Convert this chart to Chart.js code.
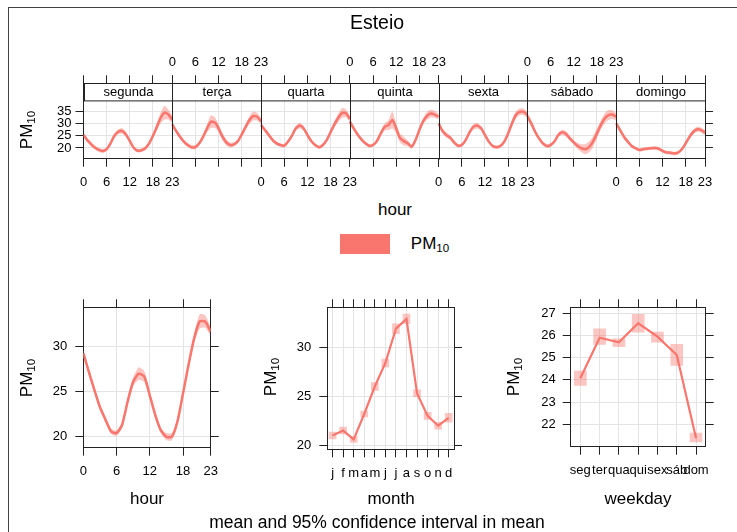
<!DOCTYPE html>
<html>
<head>
<meta charset="utf-8">
<script src="https://cdn.jsdelivr.net/npm/chart.js@4.4.1/dist/chart.umd.min.js"></script>
<style>
  body { margin: 0; background: #fff; font-family: "Liberation Sans", Arial, sans-serif; }
  #wrap { position: relative; width: 737px; height: 532px; overflow: hidden; }
  #frame { position: absolute; left: 8px; top: 7px; width: 740px; height: 530px; border-left: 1px solid #444; border-top: 1px solid #444; }
  canvas { position: absolute; }
  .txt { position: absolute; transform: translate(-50%, -50%); white-space: nowrap; color: #000; }
  .rot { transform: translate(-50%, -50%) rotate(-90deg); }
  sub { font-size: 68%; vertical-align: -0.25em; }
</style>
</head>
<body>
<div id="wrap">
  <div id="frame"></div>
  <canvas id="top" width="737" height="200" style="left:0;top:0"></canvas>
  <canvas id="cHour" width="245" height="200" style="left:0;top:290px"></canvas>
  <canvas id="cMonth" width="245" height="200" style="left:245px;top:290px"></canvas>
  <canvas id="cWeek" width="247" height="200" style="left:490px;top:290px"></canvas>

  <div class="txt" style="left:377px;top:22px;font-size:19.5px">Esteio</div>
  <div class="txt rot" style="left:27px;top:130px;font-size:17px">PM<sub>10</sub></div>
  <div class="txt" style="left:395px;top:210px;font-size:17px">hour</div>
  <div style="position:absolute;left:340px;top:234px;width:50px;height:20px;background:#F8766D"></div>
  <div class="txt" style="left:430px;top:244px;font-size:17px">PM<sub>10</sub></div>

  <div class="txt rot" style="left:27px;top:378px;font-size:17px">PM<sub>10</sub></div>
  <div class="txt rot" style="left:271px;top:377px;font-size:17px">PM<sub>10</sub></div>
  <div class="txt rot" style="left:514px;top:377px;font-size:17px">PM<sub>10</sub></div>
  <div class="txt" style="left:147px;top:499px;font-size:17px">hour</div>
  <div class="txt" style="left:391px;top:499px;font-size:17px">month</div>
  <div class="txt" style="left:638px;top:499px;font-size:17px">weekday</div>
  <div class="txt" style="left:377px;top:522px;font-size:17.5px">mean and 95% confidence interval in mean</div>
</div>
<script>
// weekday x hour panel
const days = ['segunda', 'terça', 'quarta', 'quinta', 'sexta', 'sábado', 'domingo'];
const hourTicks = [0, 6, 12, 18, 23];

const seg = [25.3, 23.2, 21.5, 20.1, 19.2, 18.8, 19.5, 21.9, 25.0, 26.6, 26.9, 25.5, 22.8, 20.1, 18.9, 19.1, 19.9, 21.9, 25.0, 28.6, 32.3, 34.4, 33.6, 31.5];
const ter = [29.6, 26.9, 24.6, 22.6, 21.2, 20.3, 20.4, 21.9, 24.6, 28.0, 30.7, 30.4, 28.0, 24.6, 22.3, 21.2, 21.5, 22.8, 25.5, 28.6, 31.4, 33.0, 32.7, 30.9];
const qua = [29.3, 27.3, 25.3, 23.2, 21.9, 21.2, 20.9, 22.6, 25.0, 28.0, 29.1, 28.0, 25.3, 22.8, 21.2, 20.3, 21.2, 23.2, 26.4, 29.6, 32.3, 34.3, 34.1, 31.8];
const qui = [30.7, 28.0, 25.5, 23.5, 21.9, 20.9, 21.2, 22.8, 25.9, 28.6, 29.3, 31.4, 28.0, 24.0, 22.8, 21.9, 20.5, 23.2, 27.3, 30.9, 33.1, 34.0, 33.6, 32.7];
const sex = [30.0, 26.9, 25.3, 24.2, 22.3, 20.9, 21.2, 23.2, 26.4, 28.6, 29.1, 28.0, 25.3, 22.6, 20.8, 20.3, 20.8, 22.6, 25.9, 30.0, 33.4, 34.7, 34.7, 33.4];
const sab = [33.0, 30.0, 26.6, 23.9, 21.9, 20.8, 21.2, 22.6, 25.3, 26.4, 25.7, 23.9, 22.3, 20.8, 19.9, 19.5, 20.5, 22.6, 25.9, 29.3, 32.0, 33.4, 33.6, 32.7];
const dom = [30.0, 27.3, 24.6, 22.6, 20.8, 19.9, 19.2, 19.5, 19.7, 19.9, 20.0, 19.7, 18.8, 18.2, 18.1, 17.8, 18.1, 19.5, 21.9, 24.6, 26.6, 27.6, 27.3, 26.2];

// half widths of the 95% interval
const segCI = [0.8, 0.8, 0.8, 0.8, 0.8, 0.8, 0.7, 0.7, 0.8, 1.0, 1.1, 1.0, 0.8, 0.7, 0.7, 0.7, 0.7, 0.8, 1.0, 1.5, 2.2, 2.8, 2.0, 1.5];
const terCI = [1.0, 0.9, 0.9, 0.8, 0.8, 0.8, 0.8, 0.8, 1.0, 1.6, 2.6, 2.2, 1.6, 1.5, 1.3, 1.0, 0.8, 0.8, 1.0, 1.2, 1.5, 1.8, 1.5, 1.2];
const quaCI = [1.0, 0.9, 0.8, 0.8, 0.7, 0.7, 0.7, 0.7, 0.8, 1.0, 1.2, 1.0, 0.8, 0.7, 0.7, 0.7, 0.7, 0.8, 1.0, 1.3, 1.7, 2.0, 1.6, 1.3];
const quiCI = [1.0, 0.9, 0.8, 0.8, 0.7, 0.7, 0.7, 0.8, 1.0, 1.5, 2.0, 3.5, 2.0, 1.8, 1.8, 1.2, 0.8, 0.8, 1.0, 1.3, 1.6, 1.6, 1.4, 1.2];
const sexCI = [1.0, 1.0, 1.0, 0.9, 0.8, 0.7, 0.7, 0.7, 0.9, 1.2, 1.2, 1.0, 0.8, 0.7, 0.7, 0.7, 0.7, 0.8, 1.0, 1.3, 1.5, 1.4, 1.4, 1.2];
const sabCI = [1.2, 1.2, 1.0, 0.9, 0.8, 0.8, 0.7, 0.7, 0.9, 1.0, 1.1, 1.0, 1.0, 1.2, 1.6, 2.0, 2.2, 2.2, 2.0, 1.8, 2.0, 2.0, 1.8, 1.5];
const domCI = [1.0, 0.9, 0.8, 0.7, 0.7, 0.6, 0.6, 0.6, 0.6, 0.7, 0.7, 0.7, 0.7, 0.7, 0.7, 0.7, 0.7, 0.7, 0.8, 0.9, 1.0, 1.0, 1.0, 1.0];

// hour panel
const hourMean = [29.3, 27.2, 25.2, 23.3, 21.9, 20.6, 20.4, 21.3, 23.9, 26.1, 27.0, 26.7, 24.6, 22.4, 20.7, 20.0, 20.0, 21.7, 24.8, 28.0, 30.9, 32.8, 32.8, 31.7];
const hourCI = [0.3, 0.3, 0.3, 0.3, 0.3, 0.3, 0.3, 0.3, 0.4, 0.5, 0.7, 0.6, 0.4, 0.3, 0.3, 0.4, 0.4, 0.3, 0.3, 0.4, 0.5, 0.8, 0.7, 0.5];

// month panel
const monthLabels = ['j', 'f', 'm', 'a', 'm', 'j', 'j', 'a', 's', 'o', 'n', 'd'];
const monthMean = [21.0, 21.5, 20.6, 23.2, 26.0, 28.4, 31.9, 32.9, 25.3, 23.0, 22.0, 22.8];
const monthCI = [0.35, 0.35, 0.3, 0.3, 0.4, 0.4, 0.5, 0.5, 0.35, 0.35, 0.35, 0.45];

// weekday panel
const wdLabels = ['seg', 'ter', 'qua', 'qui', 'sex', 'sáb', 'dom'];
const wdMean = [24.07, 25.9, 25.69, 26.55, 25.95, 25.12, 21.37];
const wdLow = [23.75, 25.6, 25.5, 26.15, 25.7, 24.65, 21.2];
const wdHigh = [24.4, 26.3, 25.85, 26.95, 26.15, 25.6, 21.6];

const LINE = '#F8766D';
const BAND = 'rgba(248,118,109,0.42)';
const GRID = '#e4e4e4';
const AXIS = '#222';

Chart.defaults.font.family = '"Liberation Sans", Arial, sans-serif';
Chart.defaults.font.size = 13;
Chart.defaults.color = '#000';
Chart.defaults.animation = false;

const fix = (prop, val) => s => { s[prop] = val; };
const setTicks = vals => s => { s.ticks = vals.map(v => ({ value: v })); };
const noPlugins = { legend: { display: false }, tooltip: { enabled: false } };

function yAxes(min, max, vals, leftW, rightW, pad) {
    return {
        y: {
            min: min, max: max, afterBuildTicks: setTicks(vals), afterFit: fix('width', leftW),
            ticks: { padding: pad, autoSkip: false },
            grid: { color: GRID, tickColor: AXIS, tickLength: 8 },
            border: { color: AXIS }
        },
        y2: {
            position: 'right', min: min, max: max, afterBuildTicks: setTicks(vals), afterFit: fix('width', rightW),
            ticks: { callback: () => '' },
            grid: { drawOnChartArea: false, tickColor: AXIS, tickLength: 8 },
            border: { color: AXIS }
        }
    };
}

// ---- top panel: 7 days side by side ----
const dayMeans = [seg, ter, qua, qui, sex, sab, dom];
const dayCI = [segCI, terCI, quaCI, quiCI, sexCI, sabCI, domCI];
const topTickVals = [], botLabels = [], topLabels = [];
days.forEach((d, i) => {
    hourTicks.forEach(t => {
        topTickVals.push(i * 23 + t);
        botLabels.push(i % 2 === 0 ? String(t) : '');
        topLabels.push(i % 2 === 1 ? String(t) : '');
    });
});

const topSets = [];
dayMeans.forEach((m, d) => {
    const ci = dayCI[d];
    topSets.push({ data: m.map((v, h) => ({ x: d * 23 + h, y: v + ci[h] })), fill: '+1', backgroundColor: BAND, borderWidth: 0, pointRadius: 0, order: 1, tension: 0.2 });
    topSets.push({ data: m.map((v, h) => ({ x: d * 23 + h, y: v - ci[h] })), fill: false, borderWidth: 0, pointRadius: 0, order: 1, tension: 0.2 });
    topSets.push({ data: m.map((v, h) => ({ x: d * 23 + h, y: v })), fill: false, borderColor: LINE, borderWidth: 2.5, pointRadius: 0, order: 0, tension: 0.2 });
});

const STRIP_H = 17.4;
const stripPlugin = {
    id: 'strip',
    afterDraw(chart) {
        const ctx = chart.ctx, xs = chart.scales.x, area = chart.chartArea;
        const y0 = Math.round(area.top) + 0.5;
        const yb = Math.round(area.bottom) + 0.5;
        ctx.save();
        ctx.font = '13px "Liberation Sans", Arial, sans-serif';
        ctx.textAlign = 'center';
        ctx.textBaseline = 'middle';
        ctx.lineWidth = 1;
        ctx.strokeStyle = AXIS;
        days.forEach((name, d) => {
            const x0 = Math.round(xs.getPixelForValue(d * 23)) + 0.5;
            const x1 = Math.round(xs.getPixelForValue(d * 23 + 23)) + 0.5;
            ctx.fillStyle = '#fff';
            ctx.fillRect(x0, y0, x1 - x0, STRIP_H);
            ctx.strokeRect(x0, y0, x1 - x0, STRIP_H);
            ctx.fillStyle = '#000';
            ctx.fillText(name, (x0 + x1) / 2, y0 + STRIP_H / 2 + 0.5);
            // panel border on top of the data
            if (d < days.length - 1) {
                ctx.beginPath();
                ctx.moveTo(x1, y0);
                ctx.lineTo(x1, yb);
                ctx.stroke();
            }
        });
        ctx.restore();
    }
};

new Chart(document.getElementById('top'), {
    type: 'line',
    data: { datasets: topSets },
    plugins: [stripPlugin],
    options: {
        responsive: false, devicePixelRatio: 1,
        layout: { padding: 0 },
        plugins: noPlugins,
        scales: Object.assign({
            x: {
                type: 'linear', min: 0, max: 161, afterBuildTicks: setTicks(topTickVals), afterFit: fix('height', 41.3),
                ticks: { autoSkip: false, maxRotation: 0, padding: 8, callback: (v, i) => botLabels[i] },
                grid: { color: c => (c.tick && c.tick.value % 23 === 0) ? 'rgba(0,0,0,0)' : GRID, tickColor: AXIS, tickLength: 8 },
                border: { color: AXIS }
            },
            x2: {
                type: 'linear', position: 'top', min: 0, max: 161, afterBuildTicks: setTicks(topTickVals), afterFit: fix('height', 83.3),
                ticks: { autoSkip: false, maxRotation: 0, padding: 5, callback: (v, i) => topLabels[i] },
                grid: { drawOnChartArea: false, tickColor: AXIS, tickLength: 8 },
                border: { color: AXIS }
            }
        }, yAxes(15.65, 46.3, [20, 25, 30, 35], 83.5, 32, 4))
    }
});

// ---- hour ----
new Chart(document.getElementById('cHour'), {
    type: 'line',
    data: {
        datasets: [
            { data: hourMean.map((v, h) => ({ x: h, y: v + hourCI[h] })), fill: '+1', backgroundColor: BAND, borderWidth: 0, pointRadius: 0, order: 1, tension: 0.2 },
            { data: hourMean.map((v, h) => ({ x: h, y: v - hourCI[h] })), fill: false, borderWidth: 0, pointRadius: 0, order: 1, tension: 0.2 },
            { data: hourMean.map((v, h) => ({ x: h, y: v })), fill: false, borderColor: LINE, borderWidth: 2.5, pointRadius: 0, order: 0, tension: 0.2 }
        ]
    },
    options: {
        responsive: false, devicePixelRatio: 1,
        layout: { padding: 0 },
        plugins: noPlugins,
        scales: Object.assign({
            x: {
                type: 'linear', min: 0, max: 23, afterBuildTicks: setTicks(hourTicks), afterFit: fix('height', 42.3),
                ticks: { autoSkip: false, maxRotation: 0, padding: 8 },
                grid: { color: GRID, tickColor: AXIS, tickLength: 8 },
                border: { color: AXIS }
            },
            x2: {
                type: 'linear', position: 'top', min: 0, max: 23, afterBuildTicks: setTicks(hourTicks), afterFit: fix('height', 17.3),
                ticks: { callback: () => '' },
                grid: { drawOnChartArea: false, tickColor: AXIS, tickLength: 8 },
                border: { color: AXIS }
            }
        }, yAxes(18.78, 34.38, [20, 25, 30], 83.3, 34.3, 8))
    }
});

// ---- month ----
function catAxes(labels, bottomH) {
    return {
        x: {
            type: 'category', labels: labels, offset: true, afterFit: fix('height', bottomH),
            ticks: { autoSkip: false, maxRotation: 0, padding: 8 },
            grid: { offset: false, color: GRID, tickColor: AXIS, tickLength: 8 },
            border: { color: AXIS }
        },
        x2: {
            type: 'category', labels: labels, position: 'top', offset: true, afterFit: fix('height', 17.3),
            ticks: { autoSkip: false, callback: () => '' },
            grid: { offset: false, drawOnChartArea: false, tickColor: AXIS, tickLength: 8 },
            border: { color: AXIS }
        }
    };
}

new Chart(document.getElementById('cMonth'), {
    type: 'bar',
    data: {
        labels: monthLabels,
        datasets: [
            { type: 'line', data: monthMean, borderColor: LINE, borderWidth: 2.2, pointRadius: 0, order: 0, tension: 0 },
            { type: 'bar', data: monthMean.map((v, i) => [v - monthCI[i], v + monthCI[i]]), backgroundColor: BAND, barThickness: 7, order: 1 }
        ]
    },
    options: {
        responsive: false, devicePixelRatio: 1,
        layout: { padding: 0 },
        plugins: noPlugins,
        scales: Object.assign(catAxes(monthLabels, 40.7), yAxes(19.59, 34.08, [20, 25, 30], 82.3, 36, 8))
    }
});

// ---- weekday ----
new Chart(document.getElementById('cWeek'), {
    type: 'bar',
    data: {
        labels: wdLabels,
        datasets: [
            { type: 'line', data: wdMean, borderColor: LINE, borderWidth: 2.2, pointRadius: 0, order: 0, tension: 0 },
            { type: 'bar', data: wdLow.map((v, i) => [v, wdHigh[i]]), backgroundColor: BAND, barThickness: 12, order: 1 }
        ]
    },
    options: {
        responsive: false, devicePixelRatio: 1,
        layout: { padding: 0 },
        plugins: noPlugins,
        scales: Object.assign(catAxes(wdLabels, 43.3), yAxes(20.99, 27.27, [22, 23, 24, 25, 26, 27], 80.7, 31.3, 7))
    }
});
</script>
</body>
</html>
